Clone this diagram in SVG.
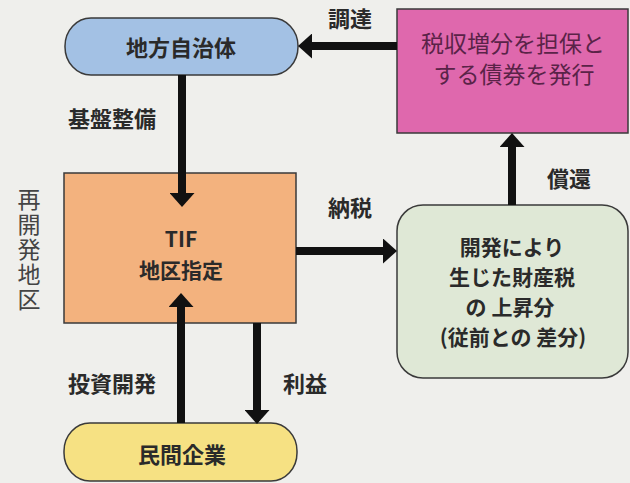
<svg xmlns="http://www.w3.org/2000/svg" width="630" height="483" viewBox="0 0 630 483">
  <defs>
    <marker id="ah" viewBox="0 0 14 25" refX="0" refY="12.5" markerWidth="14" markerHeight="25" markerUnits="userSpaceOnUse" orient="auto">
      <path d="M0,0 L14,12.5 L0,25 Z" fill="#111"/>
    </marker>
  </defs>
  <style>
    .box { stroke: #3a3a3a; stroke-width: 1.5; }
    .lbl { font-family: "Noto Sans CJK JP", "Noto Sans", sans-serif; font-size: 22px; font-weight: bold; fill: #2a2a2a; text-anchor: middle; dominant-baseline: central; }
    .ml { font-size: 21px; }
    .ser { font-family: "Noto Sans CJK JP", sans-serif; font-size: 23px; font-weight: normal; fill: #5a2348; text-anchor: middle; dominant-baseline: central; }
    .side { font-family: "Noto Sans CJK JP", sans-serif; font-size: 23px; font-weight: normal; fill: #444; }
    .arr { fill: none; stroke: #111; stroke-width: 8; marker-end: url(#ah); }
  </style>
  <rect width="630" height="483" fill="#efefec"/>

  <g id="local-gov">
    <rect class="box" x="65" y="18" width="233" height="57" rx="26" ry="28" fill="#a3c1e4"/>
    <text class="lbl" x="181" y="46">地方自治体</text>
  </g>

  <g id="bond">
    <rect class="box" x="397" y="9" width="231" height="124" fill="#df68ad"/>
    <text class="ser" x="513" y="42">税収増分を担保と</text>
    <text class="ser" x="514" y="73">する債券を発行</text>
  </g>

  <g id="tif">
    <rect class="box" x="64" y="173" width="232" height="150" fill="#f3b27e"/>
    <text class="lbl ml" x="181" y="238">TIF</text>
    <text class="lbl ml" x="181" y="269">地区指定</text>
  </g>

  <g id="tax-increase">
    <rect class="box" x="397" y="205" width="231" height="173" rx="26" ry="26" fill="#dfe8d6"/>
    <text class="lbl ml" x="512" y="246">開発により</text>
    <text class="lbl ml" x="512" y="276">生じた財産税</text>
    <text class="lbl ml" x="510" y="306">の 上昇分</text>
    <text class="lbl ml" x="513" y="336">(従前との 差分)</text>
  </g>

  <g id="private">
    <rect class="box" x="64" y="423" width="233" height="58" rx="26" ry="28" fill="#f6e183"/>
    <text class="lbl" x="182" y="453">民間企業</text>
  </g>

  <g id="connectors">
    <path class="arr" d="M397,46 L312,46"/>
    <path class="arr" d="M182,75 L182,193"/>
    <path class="arr" d="M296,251 L383,251"/>
    <path class="arr" d="M512,205 L512,147"/>
    <path class="arr" d="M181,423 L181,307"/>
    <path class="arr" d="M257,323 L257,410"/>
  </g>

  <g id="labels">
    <text class="lbl" x="350" y="17">調達</text>
    <text class="lbl" x="112" y="117">基盤整備</text>
    <text class="lbl" x="350" y="206">納税</text>
    <text class="lbl" x="569" y="177">償還</text>
    <text class="lbl" x="112" y="382">投資開発</text>
    <text class="lbl" x="305" y="382">利益</text>
    <text class="side" x="29" y="188" style="writing-mode: vertical-rl; letter-spacing: 2px;">再開発地区</text>
  </g>
</svg>
